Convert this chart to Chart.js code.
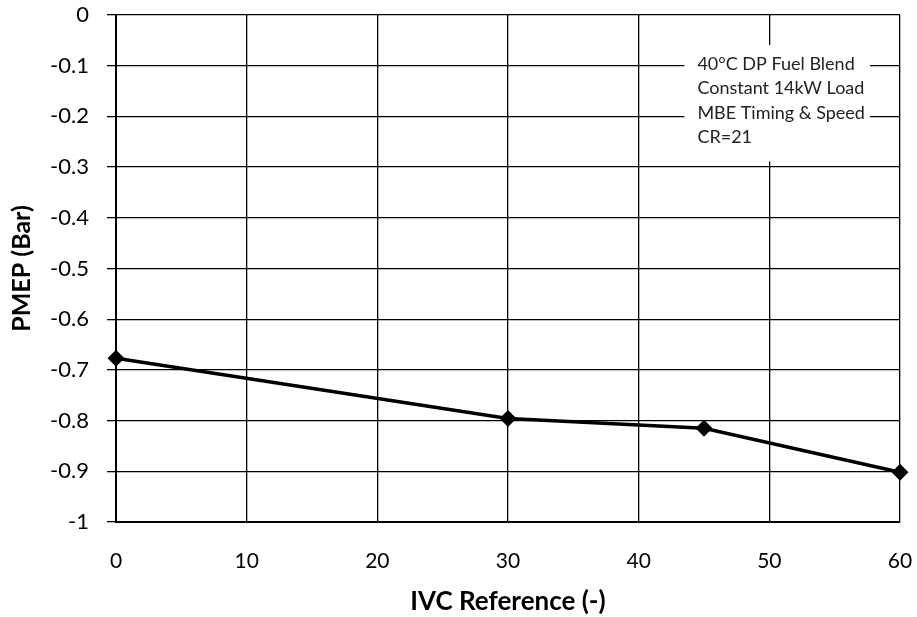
<!DOCTYPE html>
<html>
<head>
<meta charset="utf-8">
<script src="https://cdn.jsdelivr.net/npm/chart.js@4"></script>
<style>
	html, body { margin: 0; padding: 0; background: #fff; }
	#wrap { width: 917px; height: 617px; }
</style>
</head>
<body>
<div id="wrap"><canvas id="pmepChart" width="917" height="617"></canvas></div>
<script>
const ivcReference = [0, 30, 45, 60];
const pmepValues = [-0.677, -0.796, -0.815, -0.902];
const noteLines = ['40°C DP Fuel Blend', 'Constant 14kW Load', 'MBE Timing & Speed', 'CR=21'];

const FONT = 'Lato, "Open Sans", sans-serif';

// white box with the test conditions, sitting on top of the grid
const notePlugin = {
	id: 'noteBox',
	beforeDatasetsDraw(chart) {
		const { ctx, scales } = chart;
		const left = scales.x.getPixelForValue(43.5);
		const right = scales.x.getPixelForValue(57.7);
		const top = scales.y.getPixelForValue(-0.059);
		const bottom = scales.y.getPixelForValue(-0.289);
		ctx.save();
		ctx.fillStyle = '#fff';
		ctx.fillRect(left, top, right - left, bottom - top);
		ctx.fillStyle = '#222';
		ctx.font = '18px ' + FONT;
		ctx.textBaseline = 'middle';
		noteLines.forEach((line, i) => {
			ctx.fillText(line, left + 13, top + 19 + i * 24.5);
		});
		ctx.restore();
	},
};

const ctx = document.getElementById('pmepChart').getContext('2d');
const pmepChart = new Chart(ctx, {
	type: 'scatter',
	data: {
		datasets: [
			{
				data: ivcReference.map((x, i) => ({ x: x, y: pmepValues[i] })),
				showLine: true,
				borderColor: '#000',
				backgroundColor: '#000',
				borderWidth: 3.5,
				pointStyle: 'rectRot',
				pointRadius: 6,
				pointHoverRadius: 6,
				clip: false,
			},
		],
	},
	options: {
		responsive: false,
		animation: false,
		layout: { padding: { top: 15, right: 17, left: 0, bottom: 0 } },
		plugins: {
			legend: { display: false },
			tooltip: { enabled: false },
		},
		scales: {
			x: {
				type: 'linear',
				min: 0,
				max: 60,
				ticks: {
					stepSize: 10,
					color: '#000',
					font: { family: FONT, size: 21 },
					padding: 27,
				},
				grid: { color: '#000', lineWidth: 1.3, drawTicks: false },
				border: { color: '#000', width: 2 },
				title: {
					display: true,
					text: 'IVC Reference (-)',
					color: '#000',
					font: { family: FONT, size: 26, weight: 'bold' },
					padding: { top: 4, bottom: 0 },
				},
				afterFit(scale) {
					scale.height = 95;
					scale.paddingLeft = 0;
					scale.paddingRight = 0;
				},
			},
			y: {
				type: 'linear',
				min: -1,
				max: 0,
				ticks: {
					stepSize: 0.1,
					color: '#000',
					font: { family: FONT, size: 22 },
					padding: 18,
					callback: (v) => String(Number(v.toFixed(1))),
				},
				grid: { color: '#000', lineWidth: 1.3, tickLength: 9 },
				border: { color: '#000', width: 2 },
				title: {
					display: true,
					text: 'PMEP (Bar)',
					color: '#000',
					font: { family: FONT, size: 25, weight: 'bold' },
					padding: { top: 7, bottom: 4 },
				},
				afterFit(scale) {
					scale.width = 116;
					scale.paddingTop = 0;
					scale.paddingBottom = 0;
				},
			},
		},
	},
	plugins: [notePlugin],
});
</script>
</body>
</html>
